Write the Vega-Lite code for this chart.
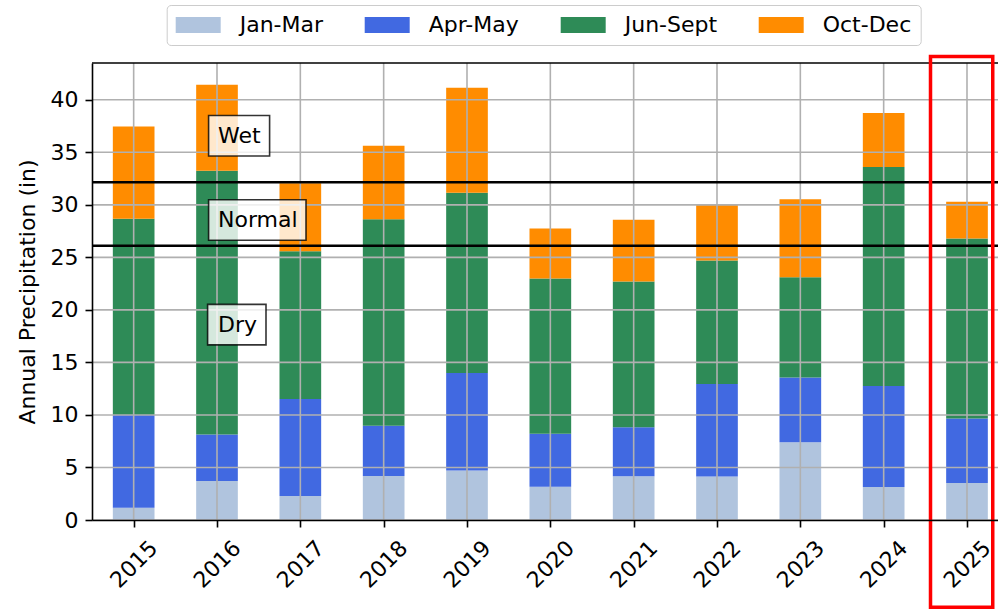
{
  "$schema": "https://vega.github.io/schema/vega-lite/v6.json",
  "autosize": {"type": "none"},
  "padding": {"left": 92, "top": 63, "right": 0, "bottom": 90},
  "width": 906,
  "height": 457,
  "background": "white",
  "config": {"font": "DejaVu Sans", "view": {"stroke": null}},
  "datasets": {
    "precip": [
      {"year": 2015, "season": "Jan-Mar", "k": 1, "inches": 1.17},
      {"year": 2015, "season": "Apr-May", "k": 2, "inches": 8.83},
      {"year": 2015, "season": "Jun-Sept", "k": 3, "inches": 18.67},
      {"year": 2015, "season": "Oct-Dec", "k": 4, "inches": 8.79},
      {"year": 2016, "season": "Jan-Mar", "k": 1, "inches": 3.71},
      {"year": 2016, "season": "Apr-May", "k": 2, "inches": 4.42},
      {"year": 2016, "season": "Jun-Sept", "k": 3, "inches": 25.11},
      {"year": 2016, "season": "Oct-Dec", "k": 4, "inches": 8.19},
      {"year": 2017, "season": "Jan-Mar", "k": 1, "inches": 2.29},
      {"year": 2017, "season": "Apr-May", "k": 2, "inches": 9.23},
      {"year": 2017, "season": "Jun-Sept", "k": 3, "inches": 14.07},
      {"year": 2017, "season": "Oct-Dec", "k": 4, "inches": 6.47},
      {"year": 2018, "season": "Jan-Mar", "k": 1, "inches": 4.19},
      {"year": 2018, "season": "Apr-May", "k": 2, "inches": 4.79},
      {"year": 2018, "season": "Jun-Sept", "k": 3, "inches": 19.65},
      {"year": 2018, "season": "Oct-Dec", "k": 4, "inches": 6.99},
      {"year": 2019, "season": "Jan-Mar", "k": 1, "inches": 4.70},
      {"year": 2019, "season": "Apr-May", "k": 2, "inches": 9.30},
      {"year": 2019, "season": "Jun-Sept", "k": 3, "inches": 17.14},
      {"year": 2019, "season": "Oct-Dec", "k": 4, "inches": 10.00},
      {"year": 2020, "season": "Jan-Mar", "k": 1, "inches": 3.17},
      {"year": 2020, "season": "Apr-May", "k": 2, "inches": 5.05},
      {"year": 2020, "season": "Jun-Sept", "k": 3, "inches": 14.76},
      {"year": 2020, "season": "Oct-Dec", "k": 4, "inches": 4.76},
      {"year": 2021, "season": "Jan-Mar", "k": 1, "inches": 4.16},
      {"year": 2021, "season": "Apr-May", "k": 2, "inches": 4.67},
      {"year": 2021, "season": "Jun-Sept", "k": 3, "inches": 13.87},
      {"year": 2021, "season": "Oct-Dec", "k": 4, "inches": 5.87},
      {"year": 2022, "season": "Jan-Mar", "k": 1, "inches": 4.13},
      {"year": 2022, "season": "Apr-May", "k": 2, "inches": 8.82},
      {"year": 2022, "season": "Jun-Sept", "k": 3, "inches": 11.75},
      {"year": 2022, "season": "Oct-Dec", "k": 4, "inches": 5.36},
      {"year": 2023, "season": "Jan-Mar", "k": 1, "inches": 7.40},
      {"year": 2023, "season": "Apr-May", "k": 2, "inches": 6.16},
      {"year": 2023, "season": "Jun-Sept", "k": 3, "inches": 9.55},
      {"year": 2023, "season": "Oct-Dec", "k": 4, "inches": 7.43},
      {"year": 2024, "season": "Jan-Mar", "k": 1, "inches": 3.14},
      {"year": 2024, "season": "Apr-May", "k": 2, "inches": 9.62},
      {"year": 2024, "season": "Jun-Sept", "k": 3, "inches": 20.83},
      {"year": 2024, "season": "Oct-Dec", "k": 4, "inches": 5.14},
      {"year": 2025, "season": "Jan-Mar", "k": 1, "inches": 3.52},
      {"year": 2025, "season": "Apr-May", "k": 2, "inches": 6.13},
      {"year": 2025, "season": "Jun-Sept", "k": 3, "inches": 17.14},
      {"year": 2025, "season": "Oct-Dec", "k": 4, "inches": 3.50}
    ],
    "xgrid": [
      {"year": 2015}, {"year": 2016}, {"year": 2017}, {"year": 2018}, {"year": 2019}, {"year": 2020},
      {"year": 2021}, {"year": 2022}, {"year": 2023}, {"year": 2024}, {"year": 2025}
    ],
    "ygrid": [
      {"v": 0}, {"v": 5}, {"v": 10}, {"v": 15}, {"v": 20}, {"v": 25}, {"v": 30}, {"v": 35}, {"v": 40}
    ],
    "thresholds": [{"v": 26.1}, {"v": 32.15}],
    "topspine": [{"v": 43.5}],
    "labels": [
      {"label": "Wet", "year": 2016, "v": 36.57},
      {"label": "Normal", "year": 2016, "v": 28.55},
      {"label": "Dry", "year": 2016, "v": 18.6}
    ],
    "highlight": [{"x0": 2024.562, "x1": 2025.309, "y0": -8.3, "y1": 44.12}]
  },
  "layer": [
    {
      "data": {"name": "precip"},
      "mark": {"type": "bar", "orient": "vertical", "size": 41.67},
      "encoding": {
        "x": {
          "field": "year", "type": "quantitative",
          "scale": {"domain": [2014.5, 2025.372], "nice": false, "zero": false, "padding": 0},
          "axis": {
            "values": [2015, 2016, 2017, 2018, 2019, 2020, 2021, 2022, 2023, 2024, 2025],
            "format": "d", "title": null, "grid": false,
            "labelAngle": -45, "labelAlign": "center", "labelBaseline": "middle",
            "labelPadding": 37, "labelFontSize": 22, "labelColor": "black",
            "labelOverlap": false, "labelFlush": false,
            "tickSize": 7, "tickColor": "black", "tickWidth": 1.6,
            "domainColor": "black", "domainWidth": 1.6, "zindex": 1
          }
        },
        "y": {
          "field": "inches", "type": "quantitative", "stack": "zero",
          "scale": {"domain": [0, 43.5], "nice": false, "padding": 0},
          "axis": {
            "values": [0, 5, 10, 15, 20, 25, 30, 35, 40],
            "title": "Annual Precipitation (in)", "grid": false,
            "labelFontSize": 22, "labelColor": "black", "labelPadding": 7,
            "tickSize": 7, "tickColor": "black", "tickWidth": 1.6,
            "domainColor": "black", "domainWidth": 1.6,
            "titleFontSize": 22, "titleFontWeight": "normal", "titleColor": "black",
            "titleX": -64.5, "titleY": 228.5, "titleAngle": -90,
            "titleAlign": "center", "titleBaseline": "middle", "zindex": 1
          }
        },
        "color": {
          "field": "season", "type": "nominal",
          "scale": {
            "domain": ["Jan-Mar", "Apr-May", "Jun-Sept", "Oct-Dec"],
            "range": ["#B0C4DE", "#4169E1", "#2E8B57", "#FF8C00"]
          },
          "legend": {
            "title": null, "orient": "none", "direction": "horizontal",
            "legendX": 74.7, "legendY": -58,
            "symbolType": "M-2.045,-0.716H2.045V0.716H-2.045Z", "symbolSize": 484,
            "symbolOffset": 11.5,
            "symbolStrokeWidth": 0, "symbolOpacity": 1,
            "labelFontSize": 22, "labelColor": "black", "labelOffset": 30.5,
            "columnPadding": 41, "padding": 9,
            "strokeColor": "#cccccc", "cornerRadius": 4, "fillColor": "white"
          }
        },
        "order": {"field": "k", "type": "quantitative"}
      }
    },
    {
      "data": {"name": "xgrid"},
      "mark": {"type": "rule", "color": "#b0b0b0", "strokeWidth": 1.6},
      "encoding": {
        "x": {"field": "year", "type": "quantitative", "scale": {"domain": [2014.5, 2025.372], "nice": false, "zero": false, "padding": 0}}
      }
    },
    {
      "data": {"name": "ygrid"},
      "mark": {"type": "rule", "color": "#b0b0b0", "strokeWidth": 1.6},
      "encoding": {
        "y": {"field": "v", "type": "quantitative", "scale": {"domain": [0, 43.5], "nice": false, "padding": 0}}
      }
    },
    {
      "data": {"name": "thresholds"},
      "mark": {"type": "rule", "color": "black", "strokeWidth": 2.6},
      "encoding": {
        "y": {"field": "v", "type": "quantitative", "scale": {"domain": [0, 43.5], "nice": false, "padding": 0}}
      }
    },
    {
      "data": {"name": "topspine"},
      "mark": {"type": "rule", "color": "black", "strokeWidth": 1.6},
      "encoding": {
        "y": {"field": "v", "type": "quantitative", "scale": {"domain": [0, 43.5], "nice": false, "padding": 0}}
      }
    },
    {
      "data": {"name": "labels"},
      "transform": [{"filter": "datum.label === 'Wet'"}],
      "mark": {"type": "rect", "width": 61, "height": 40.5, "xOffset": 22.1, "fill": "white", "fillOpacity": 0.8, "stroke": "black", "strokeOpacity": 0.8, "strokeWidth": 1.6},
      "encoding": {
        "x": {"field": "year", "type": "quantitative", "scale": {"domain": [2014.5, 2025.372], "nice": false, "zero": false, "padding": 0}},
        "y": {"field": "v", "type": "quantitative", "scale": {"domain": [0, 43.5], "nice": false, "padding": 0}}
      }
    },
    {
      "data": {"name": "labels"},
      "transform": [{"filter": "datum.label === 'Normal'"}],
      "mark": {"type": "rect", "width": 97.4, "height": 40.5, "xOffset": 40.3, "fill": "white", "fillOpacity": 0.8, "stroke": "black", "strokeOpacity": 0.8, "strokeWidth": 1.6},
      "encoding": {
        "x": {"field": "year", "type": "quantitative", "scale": {"domain": [2014.5, 2025.372], "nice": false, "zero": false, "padding": 0}},
        "y": {"field": "v", "type": "quantitative", "scale": {"domain": [0, 43.5], "nice": false, "padding": 0}}
      }
    },
    {
      "data": {"name": "labels"},
      "transform": [{"filter": "datum.label === 'Dry'"}],
      "mark": {"type": "rect", "width": 58.4, "height": 40.5, "xOffset": 19.8, "fill": "white", "fillOpacity": 0.8, "stroke": "black", "strokeOpacity": 0.8, "strokeWidth": 1.6},
      "encoding": {
        "x": {"field": "year", "type": "quantitative", "scale": {"domain": [2014.5, 2025.372], "nice": false, "zero": false, "padding": 0}},
        "y": {"field": "v", "type": "quantitative", "scale": {"domain": [0, 43.5], "nice": false, "padding": 0}}
      }
    },
    {
      "data": {"name": "labels"},
      "mark": {"type": "text", "align": "left", "baseline": "middle", "fontSize": 22, "color": "black", "dx": 1},
      "encoding": {
        "x": {"field": "year", "type": "quantitative", "scale": {"domain": [2014.5, 2025.372], "nice": false, "zero": false, "padding": 0}},
        "y": {"field": "v", "type": "quantitative", "scale": {"domain": [0, 43.5], "nice": false, "padding": 0}},
        "text": {"field": "label"}
      }
    },
    {
      "data": {"name": "highlight"},
      "mark": {"type": "rect", "fill": "white", "fillOpacity": 0, "stroke": "#ff0000", "strokeWidth": 3.5, "clip": false},
      "encoding": {
        "x": {"field": "x0", "type": "quantitative", "scale": {"domain": [2014.5, 2025.372], "nice": false, "zero": false, "padding": 0}},
        "x2": {"field": "x1"},
        "y": {"field": "y0", "type": "quantitative", "scale": {"domain": [0, 43.5], "nice": false, "padding": 0}},
        "y2": {"field": "y1"}
      }
    }
  ]
}
